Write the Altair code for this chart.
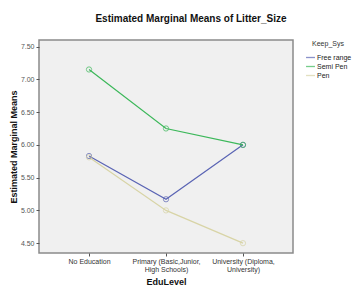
import altair as alt
import pandas as pd

categories = ["No Education", "Primary (Basic,Junior,\nHigh Schools)", "University (Diploma,\nUniversity)"]
series = ["Free range", "Semi Pen", "Pen"]
free_range = [5.83, 5.17, 6.00]
semi_pen = [7.15, 6.25, 6.00]
pen = [5.81, 5.00, 4.50]
colors = ["#5a64b4", "#3cb85a", "#d8d4a6"]
y_ticks = [4.5, 5.0, 5.5, 6.0, 6.5, 7.0, 7.5]

rows = []
for s, vals in zip(series, [free_range, semi_pen, pen]):
    for c, v in zip(categories, vals):
        rows.append({"EduLevel": c, "Keep_Sys": s, "Mean": v})
df = pd.DataFrame(rows)

font = "Liberation Sans"

x = alt.X("EduLevel:N", sort=categories,
          scale=alt.Scale(type="point", padding=0.65),
          axis=alt.Axis(title="EduLevel", labelAngle=0,
                        labelExpr="split(datum.label, '\\n')",
                        labelFontSize=7, labelColor="#333", labelLineHeight=8,
                        titleFontSize=9, titleFontWeight="bold", titleColor="#111",
                        tickSize=3, tickColor="#555", domain=False, labelPadding=1,
                        titlePadding=5))
y = alt.Y("Mean:Q", scale=alt.Scale(domain=[4.35, 7.6], nice=False, zero=False),
          axis=alt.Axis(title="Estimated Marginal Means", values=y_ticks, format=".2f",
                        labelFontSize=7, labelColor="#555", grid=False,
                        titleFontSize=9, titleFontWeight="bold", titleColor="#111",
                        tickSize=3, tickColor="#555", domain=False, titlePadding=2))
color = alt.Color("Keep_Sys:N", sort=series,
                  scale=alt.Scale(domain=series, range=colors),
                  legend=alt.Legend(title="Keep_Sys", orient="none", legendX=266, legendY=0,
                                    titleFontSize=7, titleFontWeight="normal", titleColor="#333",
                                    titleAlign="center", titleAnchor="middle",
                                    labelFontSize=7, labelColor="#222",
                                    symbolType="stroke", symbolSize=80, symbolStrokeWidth=1.3,
                                    rowPadding=-1, symbolOffset=0, labelOffset=1))

base = alt.Chart(df).encode(x=x, y=y, color=color)
lines = base.mark_line(strokeWidth=1.2)
pts = base.mark_point(size=28, strokeWidth=1, filled=False)

chart = (lines + pts).properties(
    width=254, height=213,
    autosize=alt.AutoSizeParams(type="none"),
    padding={"left": 31, "top": 32, "right": 62, "bottom": 38},
    title=alt.TitleParams("Estimated Marginal Means of Litter_Size", fontSize=10,
                          fontWeight="bold", color="#111", font=font, offset=16, dx=25),
).configure(font=font).configure_view(fill="#f0f0f0", stroke="#8a8a8a", strokeWidth=1.5)

chart.save("out.html", embed_options={"renderer": "svg", "actions": False})
